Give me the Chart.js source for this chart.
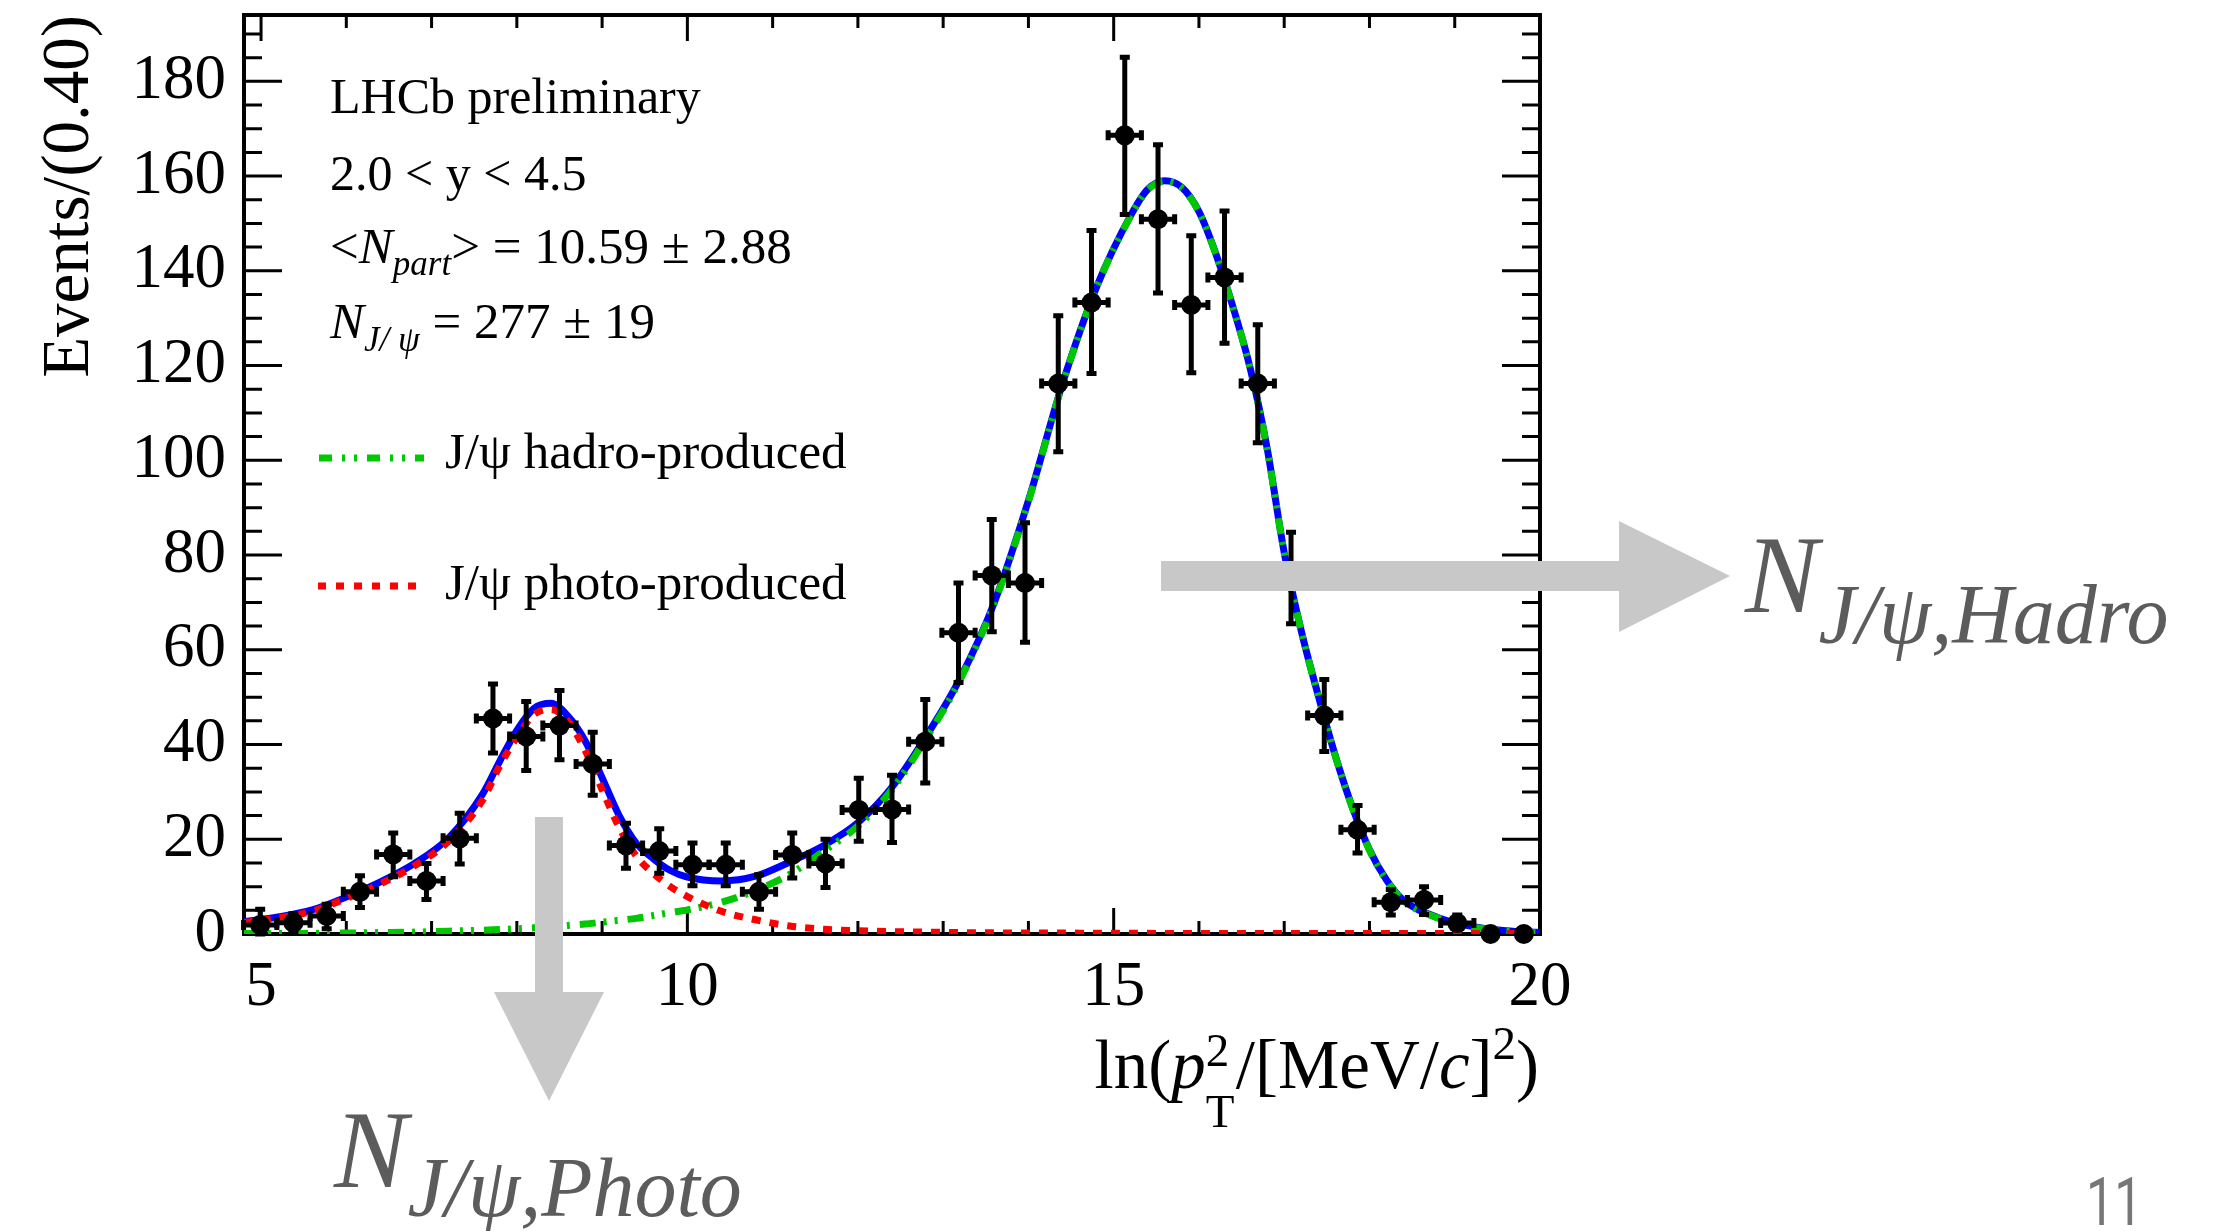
<!DOCTYPE html>
<html>
<head>
<meta charset="utf-8">
<title>ln(pT2) fit</title>
<script src="https://cdn.jsdelivr.net/npm/chart.js@4/dist/chart.umd.min.js"></script>
<style>
  body { margin: 0; background: #fff; }
  #wrap { position: relative; width: 2218px; height: 1231px; font-family: "Liberation Serif", "Times New Roman", serif; }
  #chart { position: absolute; left: 0; top: 0; }
  .t { position: absolute; white-space: nowrap; line-height: 1; color: #000; }
  .t sub, .t sup, .t .lo { line-height: 0; }
  .g { position: absolute; white-space: nowrap; line-height: 1; color: #5c5c5c; font-style: italic; }
  .ss { display: inline-block; position: relative; width: 30px; height: 0; }
  .ss span { position: absolute; left: 0; line-height: 1; font-size: 47px; }
  #overlay { position: absolute; left: 0; top: 0; pointer-events: none; }
  #page { position: absolute; left: 2086px; top: 1170px; font-family: Roboto, sans-serif; font-size: 66px; line-height: 1; color: #777; transform: scaleX(0.76); transform-origin: left top; }
</style>
</head>
<body>
<div id="wrap">
  <canvas id="chart" width="2218" height="1231"></canvas>

  <div class="t" style="left:330px;top:71px;font-size:50px">LHCb preliminary</div>
  <div class="t" style="left:330px;top:148px;font-size:50px">2.0 &lt; y &lt; 4.5</div>
  <div class="t" style="left:330px;top:221px;font-size:51px">&lt;<i>N</i><span class="lo" style="font-size:35px;vertical-align:-12px;font-style:italic">part</span>&gt; = 10.59 ± 2.88</div>
  <div class="t" style="left:330px;top:296px;font-size:51px"><i>N</i><span class="lo" style="font-size:35px;vertical-align:-13px;font-style:italic">J/ ψ</span> = 277 ± 19</div>

  <div class="t" style="left:445px;top:426px;font-size:51px">J/ψ hadro-produced</div>
  <div class="t" style="left:445px;top:557px;font-size:51px">J/ψ photo-produced</div>

  <div class="t" style="right:679px;top:1031px;font-size:69px">ln(<i>p</i><span class="ss"><span style="top:-61px">2</span><span style="top:0px">T</span></span>/[MeV/<i>c</i>]<sup style="font-size:47px;vertical-align:29px">2</sup>)</div>

  <div class="g" style="left:334px;top:1095px;font-size:110px">N<span style="font-size:84px;vertical-align:-29px">J/ψ,Photo</span></div>
  <div class="g" style="left:1745px;top:520px;font-size:110px">N<span style="font-size:84px;vertical-align:-31px">J/ψ,Hadro</span></div>

  <div id="page">11</div>

  <svg id="overlay" width="2218" height="1231">
    <line x1="319" y1="458" x2="424" y2="458" stroke="#00c800" stroke-width="7" stroke-dasharray="13 10 3 9 3 10"/>
    <line x1="318" y1="586" x2="420" y2="586" stroke="#ff0000" stroke-width="7" stroke-dasharray="8 10"/>
    <rect x="535" y="817" width="28" height="175" fill="#c8c8c8"/>
    <polygon points="494,992 604,992 549,1101" fill="#c8c8c8"/>
    <rect x="1161" y="561" width="458" height="30" fill="#c8c8c8"/>
    <polygon points="1619,521 1619,632 1730,576" fill="#c8c8c8"/>
  </svg>
</div>

<script>
// binned data, bin width 0.39 in ln(pT^2)
const binCenters = [4.99, 5.38, 5.77, 6.16, 6.55, 6.94, 7.33, 7.72, 8.11, 8.50, 8.89, 9.28, 9.67, 10.06, 10.45,
  10.84, 11.23, 11.62, 12.01, 12.40, 12.79, 13.18, 13.57, 13.96, 14.35, 14.74, 15.13, 15.52, 15.91, 16.30,
  16.69, 17.08, 17.47, 17.86, 18.25, 18.64, 19.03, 19.42, 19.81];
const binHalfWidth = 0.195;
const counts = [1.9, 2.4, 3.8, 8.9, 16.8, 11.2, 20.2, 45.5, 41.7, 44.0, 35.9, 18.7, 17.5, 14.6, 14.6,
  8.9, 16.7, 14.9, 26.2, 26.3, 40.6, 63.6, 75.7, 74.1, 116.2, 133.3, 168.6, 150.9, 132.8, 138.6,
  116.2, 75.2, 46.1, 22.0, 6.7, 7.2, 2.3, 0, 0];
const errLow = [1.9, 1.9, 2.7, 3.3, 4.7, 3.9, 5.4, 7.3, 7.2, 7.2, 6.6, 4.8, 4.7, 4.4, 4.4,
  3.7, 4.9, 5.1, 6.6, 7.0, 8.7, 10.5, 11.9, 12.5, 14.4, 15.0, 16.7, 15.6, 14.3, 13.9,
  12.5, 9.7, 7.6, 4.9, 2.7, 3.1, 1.4, 0, 0];
const errHigh = [3.3, 1.9, 2.5, 3.4, 4.5, 3.7, 5.3, 7.3, 7.4, 7.4, 6.7, 4.7, 4.7, 4.6, 4.6,
  3.6, 4.6, 5.1, 6.7, 7.2, 8.9, 10.5, 11.8, 12.7, 14.3, 15.2, 16.5, 15.7, 14.6, 14.0,
  12.4, 9.6, 7.6, 5.1, 2.7, 2.8, 1.7, 0, 0];

// fit curves
const curveX = [4.8, 5.2, 5.6, 6.0, 6.4, 6.8, 7.2, 7.6, 7.8,
  8.0, 8.2, 8.4, 8.6, 8.8, 9.0, 9.2, 9.4, 9.6, 9.8, 10.0,
  10.4, 10.8, 11.2, 11.6, 12.0, 12.4, 12.8, 13.2, 13.6, 14.0, 14.4, 14.8,
  15.2, 15.4, 15.6, 15.8, 16.0, 16.2, 16.4, 16.6, 16.8, 17.0, 17.2, 17.4, 17.6, 17.8, 18.0, 18.2, 18.4,
  18.8, 19.2, 19.6, 20.0];
const totalFit = [2.6, 3.6, 5.1, 7.8, 11.0, 14.9, 20.3, 29.6, 36.5,
  43.0, 47.6, 48.7, 46.0, 40.8, 33.0, 25.0, 19.2, 15.9, 13.4, 12.0,
  11.2, 12.2, 15.2, 18.7, 23.5, 31.0, 41.7, 54.0, 70.0, 91.5, 116.2, 136.6,
  151.7, 157.2, 159.0, 157.6, 152.5, 143.5, 132.3, 119.5, 102.5, 80.5, 64.0, 50.3, 37.6, 26.7, 17.8, 11.4, 7.1,
  3.5, 1.6, 0.7, 0.3];
const hadroFit = [0.1, 0.1, 0.15, 0.2, 0.3, 0.4, 0.6, 0.8, 0.95,
  1.1, 1.3, 1.5, 1.8, 2.1, 2.5, 2.9, 3.3, 3.9, 4.5, 5.1,
  6.7, 9.2, 12.6, 17.5, 22.8, 30.5, 41.3, 53.7, 69.8, 91.3, 116.1, 136.5,
  151.6, 157.1, 158.9, 157.5, 152.4, 143.4, 132.2, 119.4, 102.4, 80.4, 63.9, 50.2, 37.5, 26.6, 17.7, 11.3, 7.0,
  3.4, 1.5, 0.6, 0.2];
const photoFit = [2.4, 3.4, 4.8, 7.5, 10.6, 14.4, 19.6, 28.3, 35.5,
  41.5, 46.3, 47.4, 44.9, 38.8, 30.5, 22.5, 16.5, 12.8, 10.0, 7.9,
  4.8, 3.0, 1.7, 1.0, 0.7, 0.5, 0.4, 0.3, 0.25, 0.2, 0.2, 0.15,
  0.15, 0.15, 0.1, 0.1, 0.1, 0.1, 0.1, 0.1, 0.1, 0.1, 0.1, 0.1, 0.1, 0.1, 0.1, 0.1, 0.1,
  0.1, 0.1, 0.1, 0.1];

const xTickLabels = [5, 10, 15, 20];
const yTickLabels = [0, 20, 40, 60, 80, 100, 120, 140, 160, 180];
const xRange = [4.8, 20];
const yRange = [0, 194];

const toPoints = (xs, ys) => xs.map((x, i) => ({ x, y: ys[i] }));

/** ROOT-like frame with inward ticks on all four sides */
const rootFrame = {
  id: 'rootFrame',
  beforeDatasetsDraw(chart) {
    const { ctx, chartArea: a, scales: { x, y } } = chart;
    ctx.save();
    ctx.strokeStyle = '#000';
    ctx.lineWidth = 3;
    ctx.beginPath();
    for (let v = 5; v <= 20; v++) {
      const px = x.getPixelForValue(v);
      const len = v % 5 === 0 ? 26 : 13;
      ctx.moveTo(px, a.bottom); ctx.lineTo(px, a.bottom - len);
      ctx.moveTo(px, a.top); ctx.lineTo(px, a.top + len);
    }
    for (let v = 0; v <= 190; v += 5) {
      const py = y.getPixelForValue(v);
      const len = v % 20 === 0 ? 38 : 18;
      ctx.moveTo(a.left, py); ctx.lineTo(a.left + len, py);
      ctx.moveTo(a.right, py); ctx.lineTo(a.right - len, py);
    }
    ctx.stroke();
    ctx.lineWidth = 4;
    ctx.strokeRect(a.left, a.top, a.right - a.left, a.bottom - a.top);
    ctx.restore();
  }
};

/** error bars for the binned data */
const errorBars = {
  id: 'errorBars',
  afterDatasetsDraw(chart) {
    const { ctx, scales: { x, y } } = chart;
    const cap = 5;
    ctx.save();
    ctx.strokeStyle = '#000';
    ctx.lineWidth = 5;
    binCenters.forEach((c, i) => {
      if (errLow[i] === 0 && errHigh[i] === 0) return;
      const px = x.getPixelForValue(c);
      const py = y.getPixelForValue(counts[i]);
      const x0 = x.getPixelForValue(c - binHalfWidth);
      const x1 = x.getPixelForValue(c + binHalfWidth);
      const y0 = y.getPixelForValue(counts[i] - errLow[i]);
      const y1 = y.getPixelForValue(counts[i] + errHigh[i]);
      ctx.beginPath();
      ctx.moveTo(x0, py); ctx.lineTo(x1, py);
      ctx.moveTo(px, y0); ctx.lineTo(px, y1);
      ctx.moveTo(x0, py - cap); ctx.lineTo(x0, py + cap);
      ctx.moveTo(x1, py - cap); ctx.lineTo(x1, py + cap);
      ctx.moveTo(px - cap, y0); ctx.lineTo(px + cap, y0);
      ctx.moveTo(px - cap, y1); ctx.lineTo(px + cap, y1);
      ctx.stroke();
    });
    ctx.restore();
  }
};

const serif = '"Liberation Serif", "Times New Roman", serif';

new Chart(document.getElementById('chart'), {
  type: 'scatter',
  data: {
    datasets: [
      {
        label: 'data',
        data: toPoints(binCenters, counts),
        backgroundColor: '#000',
        borderColor: '#000',
        pointRadius: 10,
        pointBorderWidth: 0,
        clip: false,
        order: 0
      },
      {
        label: 'J/ψ photo-produced',
        data: toPoints(curveX, photoFit),
        showLine: true,
        borderColor: '#ff0000',
        borderWidth: 7,
        borderDash: [9, 9],
        pointRadius: 0,
        cubicInterpolationMode: 'monotone',
        order: 1
      },
      {
        label: 'J/ψ hadro-produced',
        data: toPoints(curveX, hadroFit),
        showLine: true,
        borderColor: '#00c800',
        borderWidth: 7,
        borderDash: [16, 8, 3, 8, 3, 10],
        pointRadius: 0,
        cubicInterpolationMode: 'monotone',
        order: 2
      },
      {
        label: 'total fit',
        data: toPoints(curveX, totalFit),
        showLine: true,
        borderColor: '#0000ff',
        borderWidth: 7,
        pointRadius: 0,
        cubicInterpolationMode: 'monotone',
        order: 3
      }
    ]
  },
  options: {
    responsive: false,
    devicePixelRatio: 1,
    animation: false,
    layout: { padding: { left: 0, top: 15, right: 678, bottom: 0 } },
    plugins: { legend: { display: false }, tooltip: { enabled: false } },
    scales: {
      x: {
        type: 'linear',
        min: xRange[0],
        max: xRange[1],
        grid: { display: false, drawTicks: false },
        border: { display: false },
        ticks: { color: '#000', font: { family: serif, size: 63 }, padding: 17, maxRotation: 0 },
        afterBuildTicks: axis => { axis.ticks = xTickLabels.map(v => ({ value: v })); },
        afterFit: scale => {
          scale.height = 297;
          scale.paddingLeft = 0;
          scale.paddingRight = 0;
        }
      },
      y: {
        type: 'linear',
        min: yRange[0],
        max: yRange[1],
        grid: { display: false, drawTicks: false },
        border: { display: false },
        ticks: { color: '#000', font: { family: serif, size: 63 }, padding: 18 },
        afterBuildTicks: axis => { axis.ticks = yTickLabels.map(v => ({ value: v })); },
        title: {
          display: true,
          text: 'Events/(0.40)',
          align: 'end',
          color: '#000',
          font: { family: serif, size: 67 },
          padding: { top: 30, bottom: 0 }
        },
        afterFit: scale => {
          scale.width = 244;
          scale.paddingTop = 0;
          scale.paddingBottom = 0;
        }
      }
    }
  },
  plugins: [rootFrame, errorBars]
});
</script>
</body>
</html>
